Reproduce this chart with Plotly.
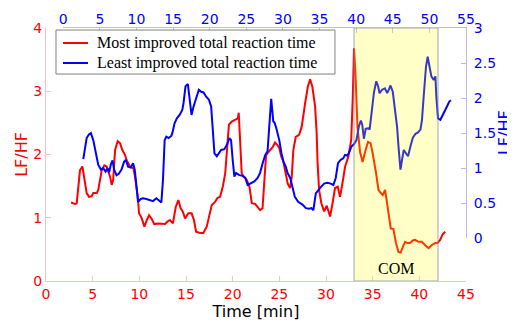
import plotly.graph_objects as go

# Most improved (bottom/left axes: time [min], LF/HF)
red_x = [2.68, 3.1, 3.29, 3.64, 3.9, 4.1, 4.36, 4.6, 4.9, 5.07, 5.43, 5.6, 5.97, 6.25, 6.5, 6.86, 7.04, 7.2,
         7.4, 7.68, 7.93, 8.18, 8.47, 8.64, 9.0, 9.36, 9.54, 9.83, 9.97, 10.26, 10.54, 10.79, 11.04, 11.33,
         11.6, 12.04, 12.75, 13.1, 13.29, 13.6, 13.9, 14.18, 14.43, 14.65, 14.9, 15.25, 15.6, 15.86, 16.08,
         16.5, 16.86, 17.22, 17.5, 17.76, 18.11, 18.36, 18.65, 18.94, 19.2, 19.37, 19.6, 19.9, 20.26, 20.55,
         20.65, 20.8, 20.97, 21.2, 21.5, 21.8, 22.05, 22.4, 22.65, 22.94, 23.2, 23.37, 23.58, 23.83, 24.0,
         24.3, 24.54, 24.8, 25.0, 25.2, 25.43, 25.6, 25.9, 26.15, 26.33, 26.5, 26.76, 27.12, 27.4, 27.76,
         28.05, 28.3, 28.54, 28.83, 29.0, 29.1, 29.26, 29.5, 29.8, 30.08, 30.26, 30.44, 30.7, 30.97, 31.26,
         31.5, 31.7, 32.05, 32.4, 32.7, 32.87, 33.0, 33.15, 33.37, 33.65, 33.92, 34.19, 34.5, 34.77, 35.0,
         35.37, 35.62, 35.87, 36.08, 36.33, 36.5, 36.8, 36.94, 37.22, 37.5, 37.76, 38.0, 38.23, 38.48, 38.73,
         39.0, 39.3, 39.55, 39.9, 40.27, 40.6, 40.98, 41.34, 41.7, 41.94, 42.23, 42.5, 42.77]
red_y = [1.24, 1.22, 1.23, 1.75, 1.81, 1.65, 1.39, 1.33, 1.34, 1.39, 1.39, 1.44, 1.75, 1.83, 1.81, 1.65, 1.52, 1.6,
         2.07, 2.21, 2.18, 2.07, 1.99, 1.91, 1.81, 1.78, 1.65, 1.33, 1.07, 0.99, 0.86, 0.96, 1.04, 0.98,
         0.9, 0.91, 0.9, 0.95, 0.96, 0.91, 1.17, 1.28, 1.15, 1.1, 0.99, 1.07, 1.07, 0.96, 0.78,
         0.76, 0.76, 0.86, 1.02, 1.2, 1.25, 1.31, 1.33, 1.49, 1.7, 2.07, 2.47, 2.52, 2.55, 2.57,
         2.66, 2.28, 1.7, 1.65, 1.6, 1.49, 1.23, 1.22, 1.18, 1.12, 1.15, 1.49, 1.99, 2.04, 2.07,
         2.12, 2.19, 2.15, 2.1, 1.97, 1.89, 1.75, 1.54, 1.47, 1.65, 2.07, 2.28, 2.31, 2.44, 2.81,
         3.07, 3.19, 3.07, 2.76, 2.34, 1.86, 1.44, 1.23, 1.1, 1.19, 1.12, 1.02, 1.23, 1.47, 1.49,
         1.33, 1.49, 1.81, 1.97, 2.23, 2.91, 3.68, 3.3, 2.44, 2.04, 1.88, 2.04, 2.2, 2.18, 2.02,
         1.7, 1.44, 1.39, 1.36, 1.44, 1.28, 1.02, 0.83, 0.82, 0.6, 0.46, 0.45, 0.54, 0.62, 0.6,
         0.6, 0.64, 0.65, 0.62, 0.62, 0.57, 0.52, 0.57, 0.6, 0.6, 0.65, 0.74, 0.78]

# Least improved (top/right axes)
blue_x = [2.74, 2.97, 3.2, 3.51, 3.78, 4.1, 4.42, 4.78, 5.14, 5.46, 5.78, 6.05, 6.27, 6.5, 6.73, 6.95, 7.28,
          7.59, 7.96, 8.31, 8.54, 8.86, 9.22, 9.54, 9.77, 10.0, 10.22, 10.59, 10.9, 11.36, 11.81, 12.26,
          12.72, 13.03, 13.4, 13.62, 13.85, 14.08, 14.39, 14.76, 14.9, 15.2, 15.52, 15.89, 16.26, 16.43,
          16.7, 17.02, 17.25, 17.52, 17.8, 18.16, 18.52, 18.84, 19.16, 19.52, 19.88, 20.2, 20.43, 20.65,
          20.97, 21.24, 21.56, 22.0, 22.33, 22.69, 22.92, 23.14, 23.37, 23.6, 24.05, 24.5, 24.87, 25.18,
          25.65, 26.1, 26.54, 26.87, 27.23, 27.59, 27.9, 28.14, 28.4, 28.68, 28.85, 29.1, 29.5, 29.81,
          30.08, 30.4, 30.63, 31.0, 31.3, 31.63, 32.08, 32.67, 33.13, 33.58, 33.9, 34.16, 34.49, 34.8,
          35.17, 35.62, 36.07, 36.53, 36.89, 37.21, 37.52, 37.89, 38.24, 38.48, 38.79, 39.02, 39.36, 39.7,
          40.04, 40.38, 40.65, 40.83, 41.06, 41.3, 41.7, 41.84, 42.1, 42.42, 42.74, 43.0, 43.2, 43.55,
          43.92, 44.24, 44.46, 44.69, 45.0, 45.28, 45.59, 45.82, 46.05, 46.27, 46.5, 46.82, 47.09, 47.41,
          47.73, 48.1, 48.45, 48.78, 48.99, 49.22, 49.54, 49.77, 50.0, 50.27, 50.59, 50.82, 50.95, 51.17,
          51.5, 51.71, 52.08, 52.4, 52.72, 52.94]
blue_y = [1.13, 1.31, 1.43, 1.48, 1.5, 1.4, 1.21, 1.05, 0.98, 1.0, 0.95, 1.0, 0.94, 1.05, 1.11, 0.98, 0.9,
          0.92, 0.98, 1.09, 1.12, 1.02, 1.01, 1.07, 0.98, 0.74, 0.52, 0.56, 0.57, 0.56, 0.54, 0.53,
          0.57, 0.54, 0.51, 0.83, 1.4, 1.45, 1.43, 1.46, 1.5, 1.64, 1.71, 1.76, 1.83, 1.93,
          2.17, 2.2, 2.02, 1.76, 1.88, 2.02, 2.12, 2.09, 2.08, 2.02, 1.98, 1.88, 1.5, 1.21,
          1.17, 1.21, 1.26, 1.27, 1.33, 1.43, 1.4, 1.12, 0.88, 0.93, 0.9, 0.89, 0.86, 0.76,
          0.78, 0.81, 0.86, 0.93, 1.07, 1.19, 1.24, 1.69, 1.99, 1.67, 1.65, 1.57, 1.4, 1.21,
          1.09, 1.02, 0.93, 0.86, 0.74, 0.59, 0.52, 0.48, 0.43, 0.42, 0.43, 0.4, 0.64, 0.69,
          0.73, 0.78, 0.79, 0.78, 0.76, 0.86, 1.07, 1.12, 1.14, 1.19, 1.18, 1.22, 1.31, 1.34,
          1.4, 1.6, 1.68, 1.62, 1.42, 1.56, 1.57, 1.55, 1.79, 2.07, 2.24, 2.17, 2.07, 2.12,
          2.14, 2.07, 2.12, 2.18, 2.09, 1.88, 1.59, 1.26, 0.98, 1.12, 1.26, 1.21, 1.17, 1.31,
          1.43, 1.49, 1.51, 1.55, 1.69, 2.02, 2.45, 2.59, 2.45, 2.31, 2.26, 2.31, 2.02, 1.71,
          1.69, 1.73, 1.81, 1.88, 1.95, 1.97]

series_names = ["Most improved total reaction time", "Least improved total reaction time"]
bottom_ticks = [0, 5, 10, 15, 20, 25, 30, 35, 40, 45]
left_ticks = [0, 1, 2, 3, 4]
top_ticks = [0, 5, 10, 15, 20, 25, 30, 35, 40, 45, 50, 55]
right_ticks = [0, 0.5, 1, 1.5, 2, 2.5, 3]
right_tick_text = ["0", "0.5", "1", "1.5", "2", "2.5", "3"]
com_start, com_end = 33, 42

RED = "#ff0000"
BLUE = "#0000ff"
RED_LINE = "rgba(255,0,0,0.25)"
BLUE_LINE = "rgba(60,60,200,0.35)"
SANS = "DejaVu Sans"
SERIF = "Liberation Serif"

fig = go.Figure()
fig.add_trace(go.Scatter(x=red_x, y=red_y, mode="lines", name=series_names[0],
                         line=dict(color=RED, width=2), xaxis="x", yaxis="y"))
fig.add_trace(go.Scatter(x=blue_x, y=blue_y, mode="lines", name=series_names[1],
                         line=dict(color=BLUE, width=2), xaxis="x2", yaxis="y2"))

# COM period shading (semi-transparent, drawn over the lines)
fig.add_shape(type="rect", xref="x", yref="y", x0=com_start, x1=com_end, y0=0, y1=4,
              fillcolor="rgba(255,255,0,0.22)", line=dict(color="rgba(120,130,180,0.7)", width=1),
              layer="above")
fig.add_annotation(x=(com_start + com_end) / 2, y=0.2, xref="x", yref="y", text="COM",
                   showarrow=False, font=dict(family=SERIF, size=16, color="black"))

# Legend box (MATLAB style, compact rows)
fig.add_shape(type="rect", xref="paper", yref="paper", x0=0.0238, x1=0.688, y0=0.818, y1=0.992,
              fillcolor="white", line=dict(color="#808080", width=1), layer="above")
legend_rows = [0.9407, 0.8617]
legend_colors = [RED, BLUE]
for name, col, yy in zip(series_names, legend_colors, legend_rows):
    fig.add_shape(type="line", xref="paper", yref="paper", x0=0.0405, x1=0.100, y0=yy, y1=yy,
                  line=dict(color=col, width=2), layer="above")
    fig.add_annotation(x=0.117, y=yy, xref="paper", yref="paper", text=name, showarrow=False,
                       xanchor="left", yanchor="middle",
                       font=dict(family=SERIF, size=16, color="black"))

# Right axis title, centred on the right axis' extent
fig.add_annotation(x=1.093, y=0.585, xref="paper", yref="paper", text="LF/HF", showarrow=False,
                   textangle=-90, xanchor="center", yanchor="middle",
                   font=dict(family=SANS, size=16, color=BLUE))

# Page body adds an 8px margin, so the figure is sized to fill the remaining window.
fig.update_layout(
    width=507, height=316,
    margin=dict(l=38, r=49, t=20, b=43),
    paper_bgcolor="white", plot_bgcolor="rgba(0,0,0,0)",
    showlegend=False,
    xaxis=dict(domain=[0, 1], range=[0, 45], anchor="y", tickvals=bottom_ticks, automargin=False,
               showline=True, linecolor=RED_LINE, linewidth=1, ticks="inside", ticklen=5,
               tickcolor=RED_LINE, tickfont=dict(family=SANS, size=14, color=RED),
               showgrid=False, zeroline=False,
               title=dict(text="Time [min]", font=dict(family=SANS, size=16, color="black"), standoff=3)),
    yaxis=dict(domain=[0, 1], range=[0, 4], anchor="x", tickvals=left_ticks, automargin=False,
               showline=True, linecolor=RED_LINE, linewidth=1, ticks="inside", ticklen=5,
               tickcolor=RED_LINE, tickfont=dict(family=SANS, size=14, color=RED),
               showgrid=False, zeroline=False,
               title=dict(text="LF/HF", font=dict(family=SANS, size=16, color=RED), standoff=1)),
    xaxis2=dict(domain=[0.041, 1], range=[0, 55], anchor="y2", side="top", tickvals=top_ticks,
                automargin=False, ticklabelstandoff=-3,
                showline=True, linecolor=BLUE_LINE, linewidth=1, ticks="inside", ticklen=5,
                tickcolor=BLUE_LINE, tickfont=dict(family=SANS, size=14, color=BLUE),
                showgrid=False, zeroline=False),
    yaxis2=dict(domain=[0.169, 1], range=[0, 3], anchor="x2", side="right", tickvals=right_ticks,
                ticktext=right_tick_text, automargin=False,
                showline=True, linecolor=BLUE_LINE, linewidth=1, ticks="inside", ticklen=5,
                tickcolor=BLUE_LINE, tickfont=dict(family=SANS, size=14, color=BLUE),
                showgrid=False, zeroline=False, ticklabelstandoff=4),
)

fig.write_html("out.html")
